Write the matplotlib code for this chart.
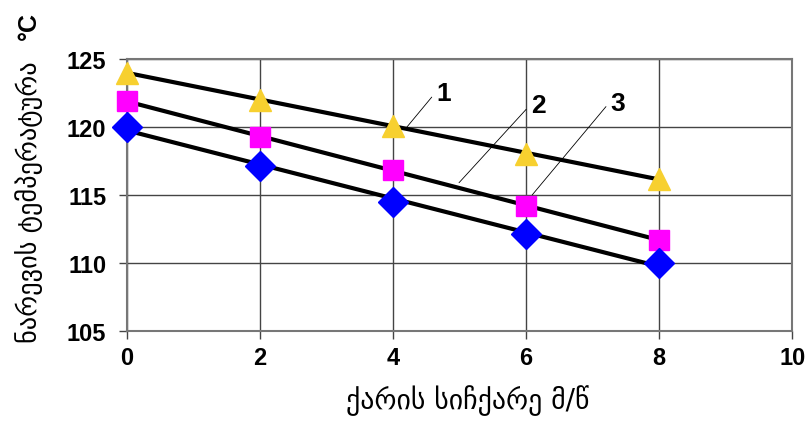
import numpy as np
import matplotlib
matplotlib.use('Agg')
import matplotlib.pyplot as plt

# wind speed, m/s
wind = [0, 2, 4, 6, 8]
# mixture temperature, C (curves 1, 2, 3)
temp1 = [124.0, 122.0, 120.1, 118.0, 116.2]
temp2 = [121.9, 119.3, 116.8, 114.2, 111.7]
temp3 = [120.0, 117.1, 114.5, 112.1, 110.0]

xticks = [0, 2, 4, 6, 8, 10]
yticks = [105, 110, 115, 120, 125]

# curve labels: (text, text pos, leader start)
labels = [
  ('1', (4.76, 122.5), (4.19, 119.9)),
  ('2', (6.18, 121.6), (4.99, 115.9)),
  ('3', (7.38, 121.8), (6.09, 115.0)),
]

fig = plt.figure(figsize=(8.1, 4.35), dpi=100)
ax = fig.add_axes([0.157, 0.237, 0.821, 0.625])

series = [
  (temp1, '^', '#F7D02F', 16),
  (temp2, 's', '#FF00FF', 15),
  (temp3, 'D', '#0000FF', 15.5),
]
x = np.array(wind)
for ys, mk, col, ms in series:
  k, b = np.polyfit(x, ys, 1)
  ax.plot([x[0], x[-1]], [b + k * x[0], b + k * x[-1]], color='black', lw=3, zorder=3)
  ax.plot(wind, ys, ls='none', marker=mk, color=col, ms=ms, mec=col, zorder=4, clip_on=False)

for txt, tpos, start in labels:
  ax.annotate('', xy=start, xytext=(tpos[0] - 0.18, tpos[1] - 0.3),
              arrowprops=dict(arrowstyle='-', color='black', lw=0.6, shrinkA=0, shrinkB=0))
  ax.text(tpos[0], tpos[1], txt, fontsize=19, fontweight='bold', family='Liberation Sans',
          ha='center', va='center')

ax.set_xlim(0, 10)
ax.set_ylim(105, 125)
ax.set_xticks(xticks)
ax.set_yticks(yticks)
ax.grid(True, color='#444444', lw=1)
ax.set_axisbelow(True)
for s in ax.spines.values():
  s.set_color('#777777')
  s.set_linewidth(1.5)
ax.tick_params(axis='both', length=6, width=1, color='#444444', labelsize=17)
ax.tick_params(axis='y', pad=9)
ax.tick_params(axis='x', pad=5)
for lab in ax.get_xticklabels() + ax.get_yticklabels():
  lab.set_family('Liberation Sans')
  lab.set_fontweight('bold')

fig.text(0.578, 0.08, 'ქარის სიჩქარე მ/წ', fontsize=20, ha='center', va='center')
fig.text(0.036, 0.535, 'ნარევის ტემპერატურა', fontsize=19, rotation=90, ha='center', va='center')
fig.text(0.036, 0.94, '°C', fontsize=18, rotation=90, ha='center', va='center',
         family='Liberation Sans', fontweight='bold')

fig.savefig('out.png', dpi=100)
